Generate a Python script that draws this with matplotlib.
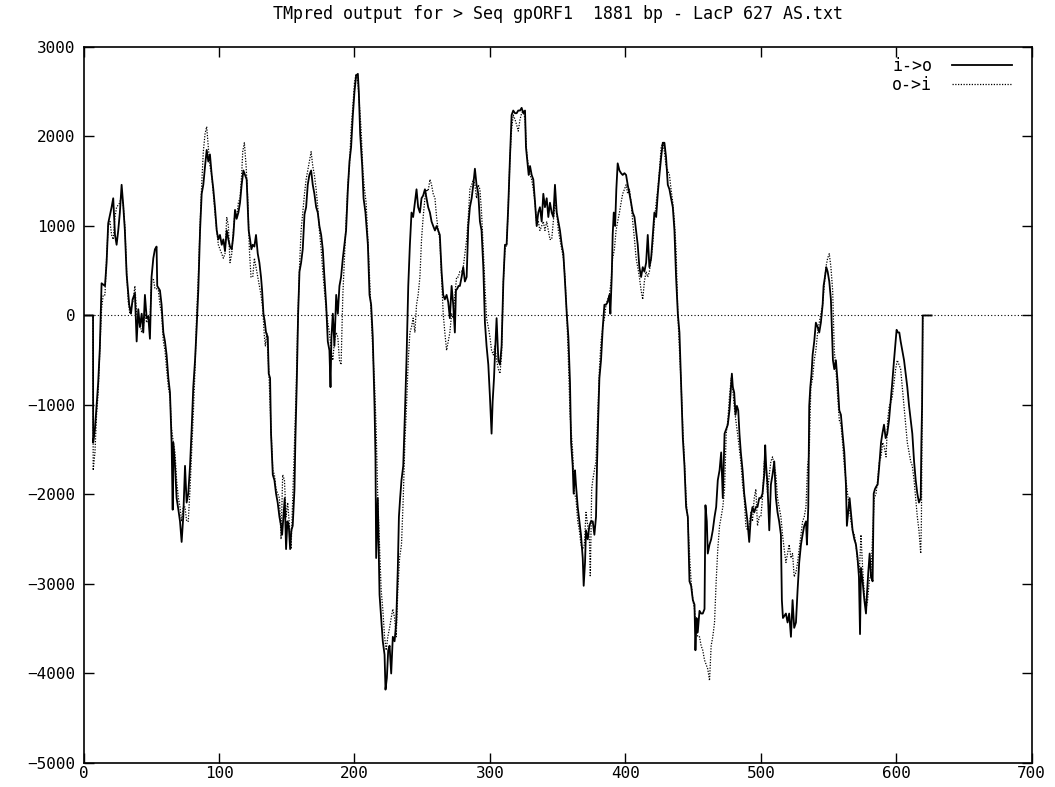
import matplotlib
matplotlib.use("Agg")
import matplotlib.pyplot as plt

# TMpred scores (residue position vs score)
pos_io = [
    0, 7, 7.1, 8.4, 10.8, 12, 13.3, 15.8, 17, 18.2,
    20.7, 21.9, 23.2, 24.4, 25.6, 26.8, 28.1, 29.3, 30.5, 31.8,
    33.7, 35, 36.2, 37.9, 39.2, 40.4, 41.6, 42.9, 44.1, 45.3,
    46.6, 47.8, 49, 50.2, 51.5, 52.7, 53.9, 54.4, 56.4, 57.6,
    58.9, 60.1, 61.3, 62.6, 63.8, 65, 65.8, 66.3, 67.5, 68.7,
    70, 71.2, 72.4, 73.6, 74.9, 76.1, 77.3, 78.6, 79.8, 81,
    82.3, 83.5, 84.7, 86, 87.2, 88.4, 89.7, 90.9, 92.1, 93.3,
    94.6, 95.8, 97, 98.3, 99.5, 100.7, 102, 103.2, 104.4, 105.7,
    106.9, 108.1, 109.4, 110.6, 111.8, 113, 114.3, 115.5, 116.7, 118,
    119.2, 120.4, 121.9, 122.9, 123.9, 124.9, 126.1, 127.3, 128.6, 129.8,
    131, 131.8, 132.8, 133.7, 134.7, 136, 136.7, 137.7, 138.4, 139.7,
    140.9, 142.1, 143.3, 144.6, 145.8, 146.6, 147.5, 148.5, 149.5, 150.5,
    151.5, 152.5, 153.4, 154.4, 155.7, 156.4, 157.4, 158.4, 159.4, 160.6,
    161.8, 163.1, 164.3, 165.5, 166.7, 168, 169.2, 170.4, 171.7, 172.9,
    174.1, 175.4, 176.6, 177.8, 179.1, 180.3, 181.5, 182.3, 183, 184,
    185.2, 186.5, 187.7, 188.9, 190.1, 191.4, 192.6, 193.8, 195.1, 196.3,
    197.5, 198.8, 200, 201.2, 202.5, 203.2, 204.2, 205.7, 206.7, 208.1,
    209.9, 211.1, 212.3, 213.5, 214.8, 215.5, 216, 217.2, 218.5, 219.7,
    220.9, 222.2, 222.9, 223.9, 224.9, 225.9, 227.1, 228.3, 229.6, 230.8,
    232, 232.8, 233.7, 234.7, 236, 237.2, 238.4, 239.7, 240.9, 242.1,
    243.3, 244.6, 245.8, 247, 248.3, 249.5, 250.7, 252, 253.2, 254.4,
    255.7, 256.9, 258.1, 259.4, 260.6, 261.8, 263, 264.3, 265.5, 266.7,
    268, 269.2, 270.4, 271.7, 272.9, 274.1, 274.9, 275.9, 276.8, 277.8,
    279.1, 280.3, 281.5, 282.8, 284, 285.2, 286.5, 287.7, 288.9, 290.1,
    291.4, 292.6, 293.8, 295.1, 296.3, 297.5, 298.8, 300, 301.2, 302,
    303, 303.7, 304.9, 306.2, 307.4, 308.6, 309.9, 311.1, 312.3, 313.5,
    314.8, 316, 317.2, 318.5, 319.7, 320.9, 322.2, 323.4, 324.6, 325.9,
    326.6, 327.6, 328.6, 329.6, 330.8, 332, 333.3, 334.5, 335.7, 336.9,
    338.2, 339.4, 340.6, 341.9, 343.1, 344.3, 345.6, 346.8, 348, 349.3,
    350.5, 351.7, 353, 354.2, 355.4, 356.7, 357.9, 359.1, 359.9, 361.1,
    361.8, 362.8, 363.5, 364.8, 366, 367.2, 368.5, 369.2, 370.2, 370.9,
    372.2, 373.4, 374.6, 375.9, 377.1, 378.3, 379.1, 380, 380.8, 382,
    383.3, 384.5, 385.7, 386.9, 388.2, 388.9, 389.9, 390.6, 391.4, 392.4,
    393.3, 394.3, 395.6, 396.8, 398, 399.3, 400.5, 401.7, 403, 404.2,
    405.4, 406.7, 407.9, 409.1, 410.3, 411.6, 412.8, 414, 415.3, 416.5,
    417.7, 419, 420.2, 421.4, 422.7, 423.9, 425.1, 426.4, 427.6, 428.8,
    430, 431.3, 432.5, 433.7, 435, 436.2, 437.4, 438.7, 439.9, 441.1,
    442.4, 443.6, 444.8, 446.1, 447.3, 448.5, 449.8, 451, 451.7, 452.5,
    453.4, 454.7, 455.9, 457.1, 458.4, 459.1, 460.1, 460.8, 462.1, 463.3,
    464.5, 465.8, 467, 468.2, 469.5, 470.7, 471.9, 473.2, 474.4, 475.6,
    476.8, 478.1, 478.6, 479.3, 480.3, 481.3, 482.3, 483.3, 484.2, 485.2,
    486.5, 487.7, 488.9, 490.1, 491.4, 492.6, 493.8, 495.1, 496.3, 497.5,
    498.8, 500, 501.2, 502.5, 503.2, 503.9, 504.9, 506.2, 507.4, 508.6,
    509.9, 511.1, 512.3, 513.5, 514.8, 515.5, 516.3, 517.2, 518.5, 519.7,
    520.9, 522.2, 523.4, 524.6, 525.9, 527.1, 528.3, 529.6, 530.8, 532,
    533.3, 534, 535, 535.7, 536.5, 537.4, 538.2, 539.4, 540.6, 541.9,
    543.1, 544.3, 545.6, 546.3, 547.3, 548.3, 549.3, 550.5, 551.7, 552.5,
    553.2, 554.2, 555.4, 556.7, 557.9, 559.1, 560.3, 561.6, 562.8, 563.5,
    564.5, 565.5, 566.5, 567.7, 569, 570.2, 571.4, 572.4, 573.2, 573.9,
    575.1, 576.4, 577.6, 578.3, 579.3, 580.3, 581.3, 582.5, 583.3, 584.2,
    585.2, 586.2, 587.4, 588.7, 589.7, 590.9, 592.1, 593.3, 594.6, 595.8,
    597, 598.3, 599.5, 600.2, 601.2, 602.2, 603.2, 604.4, 605.7, 606.9,
    608.1, 609.4, 610.6, 611.8, 613.1, 614.3, 615.5, 616.7, 618, 618.5,
    619, 619.5, 626,
]
score_io = [
    0, 0, -1420, -1270, -750, -370, 360, 330, 590, 1030,
    1210, 1310, 900, 790, 950, 1150, 1460, 1230, 950, 460,
    120, 20, 180, 250, -290, 70, -130, 20, -190, 230,
    -30, -10, -260, 430, 640, 740, 770, 330, 280, 120,
    -190, -290, -440, -700, -860, -1420, -2170, -1420, -1680, -2040,
    -2170, -2300, -2530, -2250, -1680, -2090, -1990, -1680, -1270, -800,
    -500, -130, 280, 950, 1360, 1460, 1670, 1850, 1720, 1800,
    1570, 1410, 1210, 950, 850, 900, 790, 850, 720, 950,
    850, 770, 740, 900, 1180, 1080, 1150, 1260, 1460, 1620,
    1570, 1520, 950, 850, 740, 790, 770, 900, 690, 590,
    430, 280, 20, -60, -190, -240, -650, -700, -1320, -1780,
    -1840, -1990, -2090, -2250, -2350, -2450, -2250, -2040, -2610, -2300,
    -2350, -2610, -2400, -2350, -1940, -1370, -750, 20, 490, 590,
    740, 1130, 1210, 1460, 1570, 1620, 1460, 1360, 1210, 1150,
    1000, 900, 740, 430, 120, -290, -390, -800, -240, 20,
    -340, 230, 20, 330, 430, 640, 790, 950, 1410, 1720,
    1880, 2240, 2500, 2680, 2700, 2500, 2030, 1670, 1310, 1150,
    790, 230, 120, -240, -1010, -1580, -2710, -2040, -3120, -3380,
    -3640, -3790, -4180, -4050, -3740, -3690, -4000, -3590, -3640, -3430,
    -2820, -2250, -2040, -1840, -1680, -1110, -500, 330, 790, 1150,
    1100, 1260, 1410, 1210, 1150, 1310, 1340, 1410, 1310, 1210,
    1150, 1050, 1000, 950, 1000, 950, 900, 490, 230, 180,
    230, 150, -30, 330, 120, -190, 280, 300, 330, 330,
    430, 540, 380, 430, 1000, 1210, 1310, 1460, 1640, 1460,
    1360, 1050, 950, 540, -80, -340, -550, -910, -1320, -960,
    -700, -440, -30, -500, -550, -340, 380, 790, 790, 1210,
    1770, 2240, 2290, 2260, 2260, 2290, 2290, 2320, 2260, 2290,
    1880, 1720, 1570, 1670, 1570, 1520, 1260, 1000, 1150, 1210,
    1050, 1360, 1210, 1310, 1100, 1260, 1150, 1100, 1460, 1150,
    1050, 950, 790, 690, 380, 20, -240, -750, -1420, -1680,
    -1990, -1730, -1890, -2140, -2300, -2450, -2710, -3020, -2760, -2400,
    -2500, -2350, -2300, -2300, -2450, -2250, -1630, -1110, -700, -500,
    -130, 120, 120, 150, 230, 20, 430, 900, 1150, 1000,
    1410, 1700, 1620, 1590, 1570, 1590, 1570, 1460, 1360, 1260,
    1150, 1100, 950, 790, 540, 430, 540, 490, 590, 900,
    540, 640, 900, 1150, 1100, 1360, 1570, 1770, 1930, 1930,
    1770, 1460, 1410, 1310, 1210, 950, 430, 20, -190, -750,
    -1370, -1680, -2140, -2250, -2970, -3020, -3180, -3230, -3740, -3380,
    -3540, -3300, -3330, -3330, -3280, -2120, -2300, -2660, -2560, -2500,
    -2400, -2250, -2140, -1840, -1730, -1530, -2040, -1320, -1270, -1220,
    -1060, -750, -650, -800, -860, -1110, -1010, -1060, -1320, -1530,
    -1730, -1990, -2140, -2300, -2530, -2250, -2140, -2200, -2140, -2140,
    -2040, -2040, -1990, -1780, -1450, -1680, -1890, -2400, -1890, -1780,
    -1630, -2040, -2200, -2300, -2450, -3180, -3380, -3360, -3330, -3430,
    -3330, -3590, -3180, -3490, -3430, -3070, -2760, -2560, -2450, -2350,
    -2300, -2560, -2140, -1010, -800, -650, -440, -290, -80, -130,
    -190, -80, 120, 330, 430, 540, 490, 380, 180, -190,
    -500, -600, -500, -750, -1060, -1110, -1320, -1530, -1890, -2350,
    -2200, -2040, -2200, -2400, -2500, -2560, -2710, -2920, -3560, -2820,
    -2970, -3180, -3330, -3120, -2870, -2660, -2920, -2970, -1990, -1940,
    -1910, -1890, -1680, -1420, -1320, -1220, -1370, -1320, -1170, -960,
    -750, -500, -290, -160, -190, -190, -290, -390, -500, -650,
    -800, -1010, -1170, -1320, -1630, -1840, -1990, -2090, -2040, -1420,
    -1010, 0, 0,
]

pos_oi = [
    0, 7, 7.1, 8.4, 9.6, 10.8, 12, 13.3, 14.5, 15.8,
    17, 18.2, 19.5, 20.7, 21.9, 23.2, 24.4, 26.8, 28.1, 29.3,
    30.5, 31.8, 33, 34.2, 36.7, 37.9, 39.2, 40.4, 41.6, 42.9,
    44.1, 45.3, 46.6, 47.8, 49, 50.2, 51.5, 52.7, 53.9, 55.2,
    56.4, 57.6, 58.9, 60.1, 61.3, 62.6, 63.8, 65, 66.3, 67.5,
    68.7, 70, 71.2, 72.4, 73.6, 74.9, 76.1, 77.3, 78.6, 79.8,
    81, 82.3, 83.5, 84.7, 86, 87.2, 88.4, 89.7, 90.9, 92.1,
    93.3, 94.6, 95.8, 97, 98.3, 99.5, 100.7, 102, 103.2, 104.4,
    105.7, 106.9, 108.1, 109.4, 110.6, 111.8, 113, 114.3, 115.5, 116.7,
    117.5, 118.7, 120, 121.2, 122.4, 123.6, 124.9, 126.1, 127.3, 128.6,
    129.8, 131, 132.3, 133.5, 134.2, 135.2, 136.7, 137.7, 138.4, 139.7,
    140.9, 142.1, 143.3, 144.6, 145.8, 147, 148.3, 149.5, 150.7, 152,
    153.2, 154.4, 155.7, 156.9, 158.1, 159.4, 160.6, 161.8, 163.1, 164.3,
    165.5, 166.7, 168, 169.2, 170.4, 171.7, 172.9, 174.1, 175.4, 176.6,
    177.8, 179.1, 180.3, 181.5, 182.8, 184, 185.2, 186.5, 187.7, 188.9,
    190.1, 191.4, 192.6, 193.8, 195.1, 196.3, 197.5, 198.8, 200, 201.2,
    202.5, 203.7, 204.9, 206.2, 207.4, 208.6, 209.9, 211.1, 212.3, 213.5,
    214.8, 216, 217.2, 218.5, 219.7, 220.9, 222.2, 223.4, 224.6, 225.9,
    227.1, 228.3, 229.6, 230.8, 232, 233.3, 234.7, 236, 237.2, 238.4,
    239.7, 240.9, 242.1, 243.3, 244.6, 245.8, 247, 248.3, 249.5, 250.7,
    252, 253.2, 254.4, 255.7, 256.9, 258.1, 259.4, 260.6, 261.8, 263,
    264.3, 265.5, 266.7, 268, 269.2, 270.4, 271.7, 272.9, 274.1, 275.4,
    276.6, 277.8, 279.1, 280.3, 281.5, 282.8, 284, 285.2, 286.5, 287.7,
    288.9, 290.1, 291.4, 292.6, 293.8, 295.1, 296.3, 297.5, 298.8, 300,
    301.2, 302.5, 303.7, 304.9, 306.2, 307.4, 308.6, 309.9, 311.1, 312.3,
    313.5, 314.8, 316, 317.2, 318.5, 319.7, 320.9, 322.2, 323.4, 324.6,
    325.9, 327.1, 328.3, 329.6, 330.8, 332, 333.3, 334.5, 335.7, 336.9,
    338.2, 339.4, 340.6, 341.9, 343.1, 344.3, 345.6, 346.8, 348, 349.3,
    350.5, 351.7, 353, 354.2, 355.4, 356.7, 357.9, 359.1, 361.1, 362.3,
    363.5, 364.8, 366, 367.2, 368.5, 369.7, 370.9, 372.2, 373.4, 374.1,
    375.1, 375.9, 377.1, 378.3, 379.6, 380.8, 382, 383.3, 384.5, 385.7,
    386.9, 388.2, 389.4, 390.6, 391.9, 393.1, 394.3, 395.6, 396.8, 398,
    399.3, 400.5, 401.7, 403, 404.2, 405.4, 406.7, 407.9, 409.1, 410.3,
    411.6, 412.8, 414, 415.3, 416.5, 417.7, 419, 420.2, 421.4, 422.7,
    423.9, 425.1, 426.4, 427.6, 428.8, 430, 431.3, 432.5, 433.7, 435,
    436.2, 437.4, 438.7, 439.9, 441.1, 442.4, 443.6, 444.8, 446.1, 447.3,
    448.5, 449.8, 451, 452.2, 453.4, 454.7, 455.9, 457.1, 458.4, 459.6,
    460.8, 462.1, 463.3, 464.5, 465.8, 467, 468.2, 469.5, 470.7, 471.9,
    473.2, 474.4, 475.6, 476.8, 478.1, 479.1, 480.3, 481.5, 482.8, 484,
    485.2, 486.5, 487.7, 488.9, 490.1, 491.4, 492.6, 493.8, 495.1, 496.3,
    497.5, 498.8, 500, 501.2, 502.5, 503.7, 504.9, 506.2, 507.4, 508.6,
    509.9, 511.1, 512.3, 513.5, 514.8, 516, 517.2, 518.5, 519.7, 520.9,
    522.2, 523.4, 524.6, 525.9, 527.1, 528.3, 529.6, 530.8, 532, 533.3,
    534.5, 535.7, 536.9, 538.2, 539.4, 540.6, 541.9, 543.1, 544.3, 545.6,
    546.8, 548, 549.3, 550.5, 551.7, 553, 554.2, 555.4, 556.7, 557.9,
    559.1, 560.3, 561.6, 562.8, 564, 565.3, 566.5, 567.7, 569, 570.2,
    571.4, 572.7, 573.9, 575.1, 576.4, 577.6, 578.8, 580, 581.3, 582.5,
    583.7, 585, 586.2, 587.4, 588.7, 589.9, 591.1, 592.4, 593.6, 594.8,
    596.1, 597, 598.3, 599.5, 600.7, 602, 603.2, 604.4, 605.7, 606.9,
    608.1, 609.4, 610.6, 611.8, 613.1, 614.3, 615.5, 616.7, 618, 618.5,
    619, 619.5, 626,
]
score_oi = [
    0, 0, -1730, -1530, -1110, -860, -390, 70, 230, 230,
    640, 1000, 1050, 900, 850, 1100, 1210, 1260, 1360, 1230,
    1000, 490, 150, 20, 180, 330, 20, -80, -80, -190,
    -130, 20, -80, -30, -80, 410, 410, 300, 300, 280,
    120, 20, -290, -390, -600, -800, -910, -1270, -1420, -1530,
    -1840, -2040, -2140, -2300, -2140, -2140, -2300, -2300, -1940, -1530,
    -1110, -600, 20, 430, 1000, 1460, 1830, 2030, 2110, 1880,
    1670, 1570, 1360, 1150, 950, 790, 740, 690, 640, 690,
    1100, 1000, 590, 690, 950, 1150, 1100, 1260, 1310, 1570,
    1830, 1930, 1670, 1310, 740, 430, 430, 640, 540, 430,
    330, 230, 70, -240, -340, -190, -600, -1010, -1270, -1730,
    -1780, -1940, -1990, -2040, -2500, -1780, -1840, -2250, -2090, -2350,
    -2610, -2040, -1420, -860, -80, 540, 950, 1150, 1360, 1520,
    1620, 1720, 1830, 1670, 1570, 1410, 1210, 950, 740, 490,
    280, 70, -80, -190, -390, -500, -290, -190, -240, -500,
    -550, 230, 640, 1050, 1460, 1670, 2080, 2340, 2600, 2700,
    2600, 2340, 2080, 1620, 1410, 1260, 850, 430, 20, -390,
    -750, -1270, -2040, -2560, -3070, -3280, -3590, -3740, -3590, -3490,
    -3380, -3280, -3380, -3590, -3070, -2710, -2560, -2040, -1420, -1010,
    -500, -190, -130, -30, -190, 120, 230, 430, 850, 1100,
    1310, 1410, 1390, 1520, 1460, 1360, 1310, 1100, 950, 850,
    430, 20, -190, -390, -290, -190, 20, -30, 230, 430,
    430, 490, 490, 540, 690, 850, 1100, 1410, 1460, 1520,
    1460, 1310, 1460, 1410, 1150, 740, 330, -30, -130, -240,
    -390, -440, -340, -500, -600, -650, -440, 380, 740, 790,
    1210, 1770, 2080, 2240, 2190, 2130, 2060, 2190, 2260, 2290,
    2190, 1830, 1670, 1570, 1520, 1410, 1260, 1000, 1050, 950,
    1000, 1050, 950, 1050, 950, 850, 850, 1050, 1260, 1150,
    950, 850, 740, 640, 430, 20, -500, -1100, -1530, -1990,
    -2040, -2300, -2400, -2560, -2610, -2560, -2200, -2350, -2500, -2920,
    -1940, -1840, -1730, -1630, -1110, -600, -290, -130, -30, 120,
    180, 230, 380, 640, 740, 950, 1050, 1150, 1260, 1360,
    1410, 1460, 1360, 1410, 1260, 1050, 850, 640, 540, 430,
    280, 180, 380, 490, 430, 490, 640, 790, 1050, 1260,
    1410, 1620, 1880, 1930, 1830, 1670, 1620, 1570, 1410, 1260,
    1050, 740, 20, -390, -750, -1270, -1630, -2040, -2300, -2660,
    -2970, -3180, -3280, -3490, -3590, -3590, -3690, -3740, -3850, -3900,
    -3950, -4080, -3690, -3590, -3430, -2970, -2610, -2350, -2250, -2140,
    -1940, -1320, -1170, -910, -700, -800, -1010, -1170, -1320, -1470,
    -1630, -1890, -2040, -2350, -2400, -2350, -2200, -2300, -2040, -1940,
    -2350, -2250, -2250, -2040, -1630, -1680, -1990, -1780, -1630, -1580,
    -1680, -1780, -2040, -2140, -2250, -2450, -2610, -2760, -2660, -2560,
    -2710, -2660, -2920, -2870, -2760, -2610, -2450, -2300, -2250, -2140,
    -1680, -1530, -800, -700, -500, -390, -190, -80, 20, 120,
    330, 540, 640, 690, 540, 280, -390, -600, -910, -1170,
    -1220, -1420, -1680, -1840, -1990, -2140, -2300, -2400, -2450, -2560,
    -2760, -2870, -2450, -2820, -3120, -3280, -3180, -2970, -2870, -2450,
    -2040, -1990, -1840, -1630, -1580, -1420, -1470, -1580, -1170, -1010,
    -960, -910, -750, -600, -500, -550, -600, -800, -1010, -1220,
    -1420, -1530, -1630, -1680, -1840, -2040, -2250, -2400, -2660, -2300,
    -1300, 0, 0,
]

x_ticks = [0, 100, 200, 300, 400, 500, 600, 700]
y_ticks = [-5000, -4000, -3000, -2000, -1000, 0, 1000, 2000, 3000]
title = "TMpred output for > Seq gpORF1  1881 bp - LacP 627 AS.txt"

mono = "DejaVu Sans Mono"
plt.rcParams['font.family'] = mono

fig = plt.figure(figsize=(10.55, 7.87), dpi=100)
ax = fig.add_axes([0.0792, 0.0305, 0.8988, 0.9098])

ax.axhline(0, color='black', lw=0.8, ls=(0, (1, 2)), zorder=1)
ax.plot(pos_io, score_io, color='black', lw=1.3, label='i->o', zorder=3)
ax.plot(pos_oi, score_oi, color='black', lw=0.9, ls=(0, (1, 1.2)),
        label='o->i', zorder=2)

ax.set_xlim(0, 700)
ax.set_ylim(-5000, 3000)
ax.set_xticks(x_ticks)
ax.set_yticks(y_ticks)
ax.tick_params(direction='in', top=True, right=True, length=7, width=1,
               labelsize=11.5)
ax.tick_params(axis='y', pad=6)
ax.tick_params(axis='x', pad=2)
for s in ax.spines.values():
    s.set_linewidth(1.2)

ax.set_title(title, fontsize=12, pad=20)
ax.legend(loc='upper right', frameon=False, markerfirst=False,
          handlelength=3.6, fontsize=12, borderaxespad=0.2,
          bbox_to_anchor=(0.99, 1.0),
          labelspacing=0.05, handletextpad=1.2)

fig.savefig("out.png", dpi=100)
